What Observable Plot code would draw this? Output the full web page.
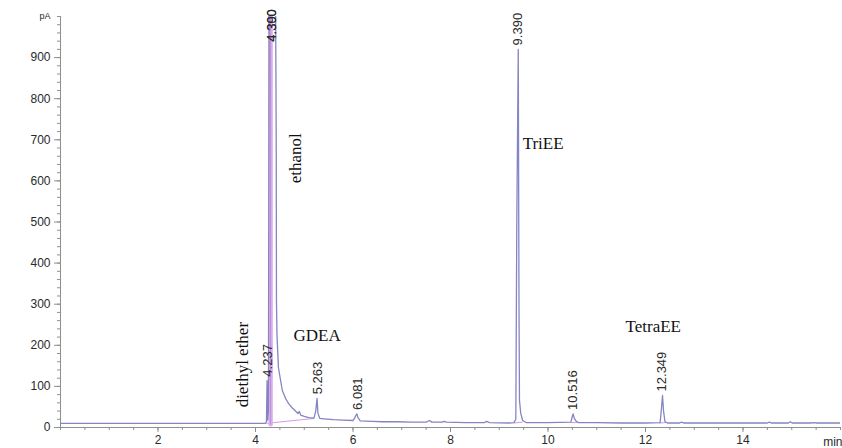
<!DOCTYPE html>
<html>
<head>
<meta charset="utf-8">
<script src="https://cdn.jsdelivr.net/npm/d3@7"></script>
<script src="https://cdn.jsdelivr.net/npm/@observablehq/plot@0.6"></script>
<style>
  html, body { margin: 0; padding: 0; background: #fff; }
  #chart svg { display: block; }
</style>
</head>
<body>
<div id="chart"></div>
<script>
// ---- Data ----
// Main detector trace: retention time (min) and signal (pA)
const traceTime = [0, 1, 2, 3, 4, 4.20, 4.225, 4.237, 4.25, 4.265, 4.28, 4.41, 4.425, 4.43, 4.44, 4.47, 4.55, 4.62, 4.68, 4.75, 4.82, 4.87, 4.90, 4.93, 5.0, 5.09, 5.2, 5.235, 5.263, 5.28, 5.32, 5.4, 5.6, 5.8, 6.0, 6.03, 6.06, 6.081, 6.10, 6.15, 6.4, 6.6, 6.9, 7.2, 7.5, 7.57, 7.62, 7.83, 7.87, 7.92, 8.3, 8.7, 8.74, 8.8, 9.2, 9.3, 9.34, 9.36, 9.39, 9.405, 9.415, 9.44, 9.48, 9.55, 10.0, 10.47, 10.50, 10.516, 10.54, 10.58, 10.62, 11.0, 11.5, 12.0, 12.30, 12.33, 12.349, 12.37, 12.40, 12.45, 12.70, 12.74, 12.78, 13.5, 14.50, 14.54, 14.58, 14.93, 14.97, 15.01, 15.40, 15.45, 15.50, 16];
const traceSignal = [10, 10, 10, 10, 10, 10, 14, 114, 18, 40, 1100, 1100, 700, 309, 229, 146, 90, 70, 58, 48, 40, 34, 39, 30, 27, 24, 23, 40, 71, 35, 22, 21, 19, 18, 17, 22, 30, 33, 24, 16, 15, 14, 14, 13, 13, 17, 13, 13, 15, 13, 12, 12, 15, 12, 11, 12, 20, 500, 920, 300, 66, 35, 17, 12, 12, 13, 28, 33, 22, 15, 12, 12, 11, 11, 12, 50, 78, 40, 14, 11, 11, 13, 11, 11, 11, 13, 11, 11, 14, 11, 11, 12, 11, 11];

// Ethanol peak overlay (pink band)
const ethanolTime = [4.31, 4.31];
const ethanolSignal = [8, 1100];

// Integration baselines (pink): start time, start pA, end time, end pA
const baseT1 = [4.22, 9.30, 10.46, 12.28];
const baseS1 = [10, 11, 12, 11];
const baseT2 = [5.20, 9.48, 10.60, 12.42];
const baseS2 = [22, 13, 12, 12];

// Retention-time peak labels
const peakLabelText = ["4.300", "4.390", "4.237", "5.263", "6.081", "9.390", "10.516", "12.349"];
const peakLabelTime = [4.335, 4.335, 4.26, 5.27, 6.09, 9.375, 10.50, 12.33];
const peakLabelSignal = [929, 929, 114, 71, 33, 920, 33, 78];

// Compound names
const compoundName = ["diethyl ether", "ethanol", "GDEA", "TriEE", "TetraEE"];
const compoundTime = [3.73, 4.82, 4.78, 9.48, 11.59];
const compoundSignal = [49, 594, 224, 690, 245];
const compoundRotate = [-90, -90, 0, 0, 0];

// Axis ticks
const xTickValues = [2, 4, 6, 8, 10, 12, 14];
const xMinorStep = 0.5;
const yTickValues = [0, 100, 200, 300, 400, 500, 600, 700, 800, 900];
const yMinorStep = 20;
const yUnit = "pA";
const xUnit = "min";

// ---- Build tables ----
const trace = traceTime.map((t, i) => ({t, s: traceSignal[i]}));
const ethanol = ethanolTime.map((t, i) => ({t, s: ethanolSignal[i]}));
const baselines = baseT1.map((t, i) => ({x1: t, y1: baseS1[i], x2: baseT2[i], y2: baseS2[i]}));
const peakLabels = peakLabelText.map((text, i) => ({text, t: peakLabelTime[i], s: peakLabelSignal[i]}));
const names = compoundName.map((text, i) => ({text, t: compoundTime[i], s: compoundSignal[i], r: compoundRotate[i]}));
const xMinor = d3.range(0, 16 + 1e-9, xMinorStep);
const yMinor = d3.range(0, 1000 + 1e-9, yMinorStep);

const axisColor = "#8f8f8f";
const labelColor = "#2a2a2a";
const sans = "'Liberation Sans', Arial, sans-serif";
const serif = "'Liberation Serif', 'Times New Roman', serif";

const chart = Plot.plot({
  width: 842,
  height: 448,
  marginLeft: 60,
  marginRight: 2,
  marginTop: 16,
  marginBottom: 21,
  x: {domain: [0, 16]},
  y: {domain: [0, 1000]},
  style: {background: "#fff", fontFamily: sans, fontSize: "12px", color: labelColor},
  marks: [
    // axes lines
    Plot.ruleX([0], {stroke: axisColor, strokeWidth: 1}),
    Plot.ruleY([0], {stroke: axisColor, strokeWidth: 1}),
    // minor ticks
    Plot.axisX(xMinor, {tickSize: 3, text: null, stroke: axisColor, label: null}),
    Plot.axisY(yMinor, {tickSize: 3, text: null, stroke: axisColor, label: null}),
    // major ticks
    Plot.axisX(xTickValues, {tickSize: 5, tickPadding: 3, stroke: axisColor, fill: labelColor, fontSize: 12, label: null}),
    Plot.axisY(yTickValues, {tickSize: 6, tickPadding: 4, stroke: axisColor, fill: labelColor, fontSize: 12, label: null}),
    // unit labels
    Plot.text([yUnit], {x: 0, y: 1000, dx: -10, textAnchor: "end", fontSize: 9, fill: labelColor}),
    Plot.text([xUnit], {x: 16, y: 0, dx: 2, dy: 15, textAnchor: "end", lineAnchor: "middle", fontSize: 12, fill: labelColor}),
    // integration baselines
    Plot.link(baselines, {x1: "x1", y1: "y1", x2: "x2", y2: "y2", stroke: "#d79be6", strokeWidth: 1, clip: true}),
    // ethanol pink band
    Plot.line(ethanol, {x: "t", y: "s", stroke: "#dcb2ee", strokeWidth: 4.5, clip: true}),
    Plot.line(ethanol, {x: "t", y: "s", stroke: "#c08ad6", strokeWidth: 1, clip: true}),
    // main trace
    Plot.line(trace, {x: "t", y: "s", stroke: "#8585c2", strokeWidth: 1.3, clip: true}),
    // peak retention-time labels
    Plot.text(peakLabels, {x: "t", y: "s", text: "text", rotate: -90, textAnchor: "start", lineAnchor: "middle", dy: -4, fontSize: 13, fill: labelColor}),
    // compound names
    Plot.text(names.filter(d => d.r !== 0), {x: "t", y: "s", text: "text", rotate: -90, textAnchor: "start", lineAnchor: "middle", fontFamily: serif, fontSize: 17, fill: "#111"}),
    Plot.text(names.filter(d => d.r === 0), {x: "t", y: "s", text: "text", textAnchor: "start", lineAnchor: "middle", fontFamily: serif, fontSize: 17, fill: "#111"})
  ]
});
document.getElementById("chart").appendChild(chart);
</script>
</body>
</html>
